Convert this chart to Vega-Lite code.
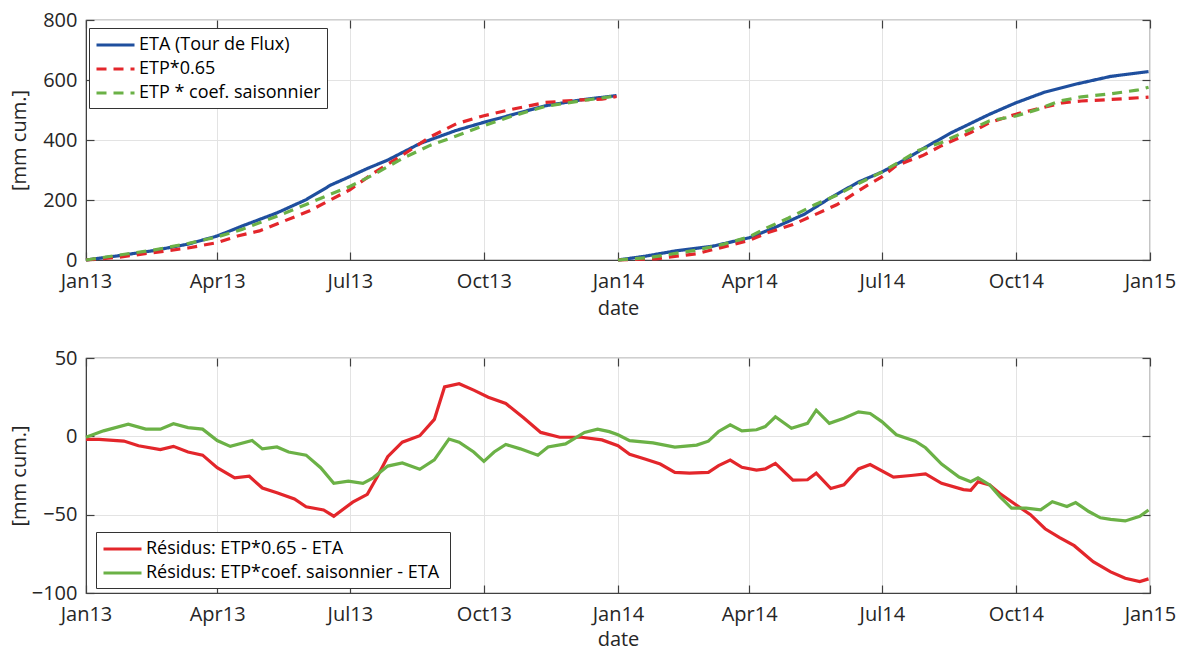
{
  "$schema": "https://vega.github.io/schema/vega-lite/v6.json",
  "background": "white",
  "padding": {"left": 8, "top": 9, "right": 5, "bottom": 0},
  "bounds": "flush",
  "spacing": 98,
  "config": {
    "font": "Open Sans",
    "view": {"stroke": "#404040", "strokeWidth": 1.2},
    "axis": {
      "labelFontSize": 20, "titleFontSize": 20, "titleFontWeight": "normal",
      "labelColor": "#262626", "titleColor": "#262626",
      "tickColor": "#404040", "domainColor": "#404040", "tickSize": -8, "tickWidth": 1.2,
      "gridColor": "#e3e3e3", "gridWidth": 1, "labelFlush": false, "labelOverlap": false
    },
    "legend": {
      "labelFontSize": 18, "labelColor": "#000", "fillColor": "white", "strokeColor": "#333",
      "padding": 6, "symbolType": "M-1,0H3", "symbolSize": 361, "symbolStrokeWidth": 3,
      "labelOffset": 22, "rowPadding": 4, "labelLimit": 500
    }
  },
  "datasets": {
    "cum": [
      {"d": "2013-01-01", "s": "ETA (Tour de Flux)", "yr": 2013, "v": 0},
      {"d": "2013-01-23", "s": "ETA (Tour de Flux)", "yr": 2013, "v": 14},
      {"d": "2013-02-16", "s": "ETA (Tour de Flux)", "yr": 2013, "v": 31},
      {"d": "2013-03-12", "s": "ETA (Tour de Flux)", "yr": 2013, "v": 53},
      {"d": "2013-04-01", "s": "ETA (Tour de Flux)", "yr": 2013, "v": 80},
      {"d": "2013-04-18", "s": "ETA (Tour de Flux)", "yr": 2013, "v": 113},
      {"d": "2013-05-12", "s": "ETA (Tour de Flux)", "yr": 2013, "v": 157},
      {"d": "2013-06-01", "s": "ETA (Tour de Flux)", "yr": 2013, "v": 201},
      {"d": "2013-06-18", "s": "ETA (Tour de Flux)", "yr": 2013, "v": 250},
      {"d": "2013-07-01", "s": "ETA (Tour de Flux)", "yr": 2013, "v": 278},
      {"d": "2013-07-13", "s": "ETA (Tour de Flux)", "yr": 2013, "v": 305},
      {"d": "2013-07-27", "s": "ETA (Tour de Flux)", "yr": 2013, "v": 333},
      {"d": "2013-08-18", "s": "ETA (Tour de Flux)", "yr": 2013, "v": 388},
      {"d": "2013-09-12", "s": "ETA (Tour de Flux)", "yr": 2013, "v": 432},
      {"d": "2013-10-01", "s": "ETA (Tour de Flux)", "yr": 2013, "v": 459},
      {"d": "2013-10-18", "s": "ETA (Tour de Flux)", "yr": 2013, "v": 481},
      {"d": "2013-11-12", "s": "ETA (Tour de Flux)", "yr": 2013, "v": 514},
      {"d": "2013-12-07", "s": "ETA (Tour de Flux)", "yr": 2013, "v": 534},
      {"d": "2013-12-31", "s": "ETA (Tour de Flux)", "yr": 2013, "v": 548},
      {"d": "2014-01-01", "s": "ETA (Tour de Flux)", "yr": 2014, "v": 0},
      {"d": "2014-01-20", "s": "ETA (Tour de Flux)", "yr": 2014, "v": 13},
      {"d": "2014-02-09", "s": "ETA (Tour de Flux)", "yr": 2014, "v": 30},
      {"d": "2014-03-07", "s": "ETA (Tour de Flux)", "yr": 2014, "v": 46},
      {"d": "2014-04-01", "s": "ETA (Tour de Flux)", "yr": 2014, "v": 74},
      {"d": "2014-04-18", "s": "ETA (Tour de Flux)", "yr": 2014, "v": 107},
      {"d": "2014-05-09", "s": "ETA (Tour de Flux)", "yr": 2014, "v": 153},
      {"d": "2014-05-26", "s": "ETA (Tour de Flux)", "yr": 2014, "v": 205},
      {"d": "2014-06-15", "s": "ETA (Tour de Flux)", "yr": 2014, "v": 260},
      {"d": "2014-07-01", "s": "ETA (Tour de Flux)", "yr": 2014, "v": 293},
      {"d": "2014-07-16", "s": "ETA (Tour de Flux)", "yr": 2014, "v": 332},
      {"d": "2014-07-31", "s": "ETA (Tour de Flux)", "yr": 2014, "v": 376},
      {"d": "2014-08-18", "s": "ETA (Tour de Flux)", "yr": 2014, "v": 425},
      {"d": "2014-09-13", "s": "ETA (Tour de Flux)", "yr": 2014, "v": 486},
      {"d": "2014-10-01", "s": "ETA (Tour de Flux)", "yr": 2014, "v": 524},
      {"d": "2014-10-21", "s": "ETA (Tour de Flux)", "yr": 2014, "v": 560},
      {"d": "2014-11-10", "s": "ETA (Tour de Flux)", "yr": 2014, "v": 585},
      {"d": "2014-12-05", "s": "ETA (Tour de Flux)", "yr": 2014, "v": 612},
      {"d": "2014-12-31", "s": "ETA (Tour de Flux)", "yr": 2014, "v": 628},

      {"d": "2013-01-01", "s": "ETP*0.65", "yr": 2013, "v": 0},
      {"d": "2013-01-23", "s": "ETP*0.65", "yr": 2013, "v": 9},
      {"d": "2013-02-23", "s": "ETP*0.65", "yr": 2013, "v": 29},
      {"d": "2013-03-12", "s": "ETP*0.65", "yr": 2013, "v": 40},
      {"d": "2013-04-01", "s": "ETP*0.65", "yr": 2013, "v": 58},
      {"d": "2013-04-15", "s": "ETP*0.65", "yr": 2013, "v": 80},
      {"d": "2013-04-30", "s": "ETP*0.65", "yr": 2013, "v": 97},
      {"d": "2013-05-17", "s": "ETP*0.65", "yr": 2013, "v": 130},
      {"d": "2013-06-03", "s": "ETP*0.65", "yr": 2013, "v": 163},
      {"d": "2013-06-18", "s": "ETP*0.65", "yr": 2013, "v": 201},
      {"d": "2013-07-01", "s": "ETP*0.65", "yr": 2013, "v": 234},
      {"d": "2013-07-17", "s": "ETP*0.65", "yr": 2013, "v": 289},
      {"d": "2013-08-06", "s": "ETP*0.65", "yr": 2013, "v": 349},
      {"d": "2013-08-25", "s": "ETP*0.65", "yr": 2013, "v": 410},
      {"d": "2013-09-12", "s": "ETP*0.65", "yr": 2013, "v": 454},
      {"d": "2013-10-01", "s": "ETP*0.65", "yr": 2013, "v": 481},
      {"d": "2013-10-18", "s": "ETP*0.65", "yr": 2013, "v": 500},
      {"d": "2013-11-12", "s": "ETP*0.65", "yr": 2013, "v": 525},
      {"d": "2013-12-07", "s": "ETP*0.65", "yr": 2013, "v": 534},
      {"d": "2013-12-21", "s": "ETP*0.65", "yr": 2013, "v": 536},
      {"d": "2013-12-31", "s": "ETP*0.65", "yr": 2013, "v": 545},
      {"d": "2014-01-01", "s": "ETP*0.65", "yr": 2014, "v": 0},
      {"d": "2014-01-27", "s": "ETP*0.65", "yr": 2014, "v": 4},
      {"d": "2014-02-24", "s": "ETP*0.65", "yr": 2014, "v": 21},
      {"d": "2014-03-14", "s": "ETP*0.65", "yr": 2014, "v": 43},
      {"d": "2014-04-01", "s": "ETP*0.65", "yr": 2014, "v": 65},
      {"d": "2014-04-13", "s": "ETP*0.65", "yr": 2014, "v": 90},
      {"d": "2014-05-01", "s": "ETP*0.65", "yr": 2014, "v": 118},
      {"d": "2014-05-16", "s": "ETP*0.65", "yr": 2014, "v": 151},
      {"d": "2014-05-31", "s": "ETP*0.65", "yr": 2014, "v": 184},
      {"d": "2014-06-21", "s": "ETP*0.65", "yr": 2014, "v": 249},
      {"d": "2014-07-01", "s": "ETP*0.65", "yr": 2014, "v": 277},
      {"d": "2014-07-11", "s": "ETP*0.65", "yr": 2014, "v": 315},
      {"d": "2014-07-29", "s": "ETP*0.65", "yr": 2014, "v": 348},
      {"d": "2014-08-11", "s": "ETP*0.65", "yr": 2014, "v": 381},
      {"d": "2014-08-31", "s": "ETP*0.65", "yr": 2014, "v": 425},
      {"d": "2014-09-13", "s": "ETP*0.65", "yr": 2014, "v": 458},
      {"d": "2014-10-01", "s": "ETP*0.65", "yr": 2014, "v": 486},
      {"d": "2014-10-16", "s": "ETP*0.65", "yr": 2014, "v": 504},
      {"d": "2014-11-02", "s": "ETP*0.65", "yr": 2014, "v": 524},
      {"d": "2014-11-15", "s": "ETP*0.65", "yr": 2014, "v": 530},
      {"d": "2014-12-05", "s": "ETP*0.65", "yr": 2014, "v": 535},
      {"d": "2014-12-25", "s": "ETP*0.65", "yr": 2014, "v": 541},
      {"d": "2014-12-31", "s": "ETP*0.65", "yr": 2014, "v": 543},

      {"d": "2013-01-01", "s": "ETP * coef. saisonnier", "yr": 2013, "v": 0},
      {"d": "2013-01-23", "s": "ETP * coef. saisonnier", "yr": 2013, "v": 16},
      {"d": "2013-02-16", "s": "ETP * coef. saisonnier", "yr": 2013, "v": 33},
      {"d": "2013-03-12", "s": "ETP * coef. saisonnier", "yr": 2013, "v": 55},
      {"d": "2013-04-01", "s": "ETP * coef. saisonnier", "yr": 2013, "v": 77},
      {"d": "2013-04-18", "s": "ETP * coef. saisonnier", "yr": 2013, "v": 102},
      {"d": "2013-05-12", "s": "ETP * coef. saisonnier", "yr": 2013, "v": 146},
      {"d": "2013-06-01", "s": "ETP * coef. saisonnier", "yr": 2013, "v": 185},
      {"d": "2013-06-18", "s": "ETP * coef. saisonnier", "yr": 2013, "v": 220},
      {"d": "2013-07-01", "s": "ETP * coef. saisonnier", "yr": 2013, "v": 245},
      {"d": "2013-07-17", "s": "ETP * coef. saisonnier", "yr": 2013, "v": 284},
      {"d": "2013-08-06", "s": "ETP * coef. saisonnier", "yr": 2013, "v": 338},
      {"d": "2013-08-25", "s": "ETP * coef. saisonnier", "yr": 2013, "v": 382},
      {"d": "2013-09-12", "s": "ETP * coef. saisonnier", "yr": 2013, "v": 413},
      {"d": "2013-10-01", "s": "ETP * coef. saisonnier", "yr": 2013, "v": 448},
      {"d": "2013-10-18", "s": "ETP * coef. saisonnier", "yr": 2013, "v": 476},
      {"d": "2013-11-12", "s": "ETP * coef. saisonnier", "yr": 2013, "v": 512},
      {"d": "2013-12-07", "s": "ETP * coef. saisonnier", "yr": 2013, "v": 531},
      {"d": "2013-12-31", "s": "ETP * coef. saisonnier", "yr": 2013, "v": 547},
      {"d": "2014-01-01", "s": "ETP * coef. saisonnier", "yr": 2014, "v": 0},
      {"d": "2014-01-22", "s": "ETP * coef. saisonnier", "yr": 2014, "v": 8},
      {"d": "2014-02-24", "s": "ETP * coef. saisonnier", "yr": 2014, "v": 33},
      {"d": "2014-03-14", "s": "ETP * coef. saisonnier", "yr": 2014, "v": 52},
      {"d": "2014-04-01", "s": "ETP * coef. saisonnier", "yr": 2014, "v": 77},
      {"d": "2014-04-13", "s": "ETP * coef. saisonnier", "yr": 2014, "v": 107},
      {"d": "2014-04-28", "s": "ETP * coef. saisonnier", "yr": 2014, "v": 140},
      {"d": "2014-05-16", "s": "ETP * coef. saisonnier", "yr": 2014, "v": 184},
      {"d": "2014-05-31", "s": "ETP * coef. saisonnier", "yr": 2014, "v": 216},
      {"d": "2014-06-15", "s": "ETP * coef. saisonnier", "yr": 2014, "v": 255},
      {"d": "2014-07-01", "s": "ETP * coef. saisonnier", "yr": 2014, "v": 293},
      {"d": "2014-07-11", "s": "ETP * coef. saisonnier", "yr": 2014, "v": 321},
      {"d": "2014-07-26", "s": "ETP * coef. saisonnier", "yr": 2014, "v": 365},
      {"d": "2014-08-11", "s": "ETP * coef. saisonnier", "yr": 2014, "v": 392},
      {"d": "2014-08-26", "s": "ETP * coef. saisonnier", "yr": 2014, "v": 425},
      {"d": "2014-09-13", "s": "ETP * coef. saisonnier", "yr": 2014, "v": 464},
      {"d": "2014-10-01", "s": "ETP * coef. saisonnier", "yr": 2014, "v": 480},
      {"d": "2014-10-16", "s": "ETP * coef. saisonnier", "yr": 2014, "v": 502},
      {"d": "2014-10-31", "s": "ETP * coef. saisonnier", "yr": 2014, "v": 530},
      {"d": "2014-11-15", "s": "ETP * coef. saisonnier", "yr": 2014, "v": 544},
      {"d": "2014-12-05", "s": "ETP * coef. saisonnier", "yr": 2014, "v": 554},
      {"d": "2014-12-23", "s": "ETP * coef. saisonnier", "yr": 2014, "v": 566},
      {"d": "2014-12-31", "s": "ETP * coef. saisonnier", "yr": 2014, "v": 576}
    ],
    "res": [
      {"d": "2013-01-01", "s": "Résidus: ETP*0.65 - ETA", "v": -2},
      {"d": "2013-01-10", "s": "Résidus: ETP*0.65 - ETA", "v": -2},
      {"d": "2013-01-27", "s": "Résidus: ETP*0.65 - ETA", "v": -3},
      {"d": "2013-02-06", "s": "Résidus: ETP*0.65 - ETA", "v": -6},
      {"d": "2013-02-21", "s": "Résidus: ETP*0.65 - ETA", "v": -8.5},
      {"d": "2013-03-02", "s": "Résidus: ETP*0.65 - ETA", "v": -6.4},
      {"d": "2013-03-12", "s": "Résidus: ETP*0.65 - ETA", "v": -10},
      {"d": "2013-03-22", "s": "Résidus: ETP*0.65 - ETA", "v": -12},
      {"d": "2013-04-01", "s": "Résidus: ETP*0.65 - ETA", "v": -20},
      {"d": "2013-04-13", "s": "Résidus: ETP*0.65 - ETA", "v": -26.5},
      {"d": "2013-04-23", "s": "Résidus: ETP*0.65 - ETA", "v": -25.5},
      {"d": "2013-05-02", "s": "Résidus: ETP*0.65 - ETA", "v": -33},
      {"d": "2013-05-12", "s": "Résidus: ETP*0.65 - ETA", "v": -36},
      {"d": "2013-05-24", "s": "Résidus: ETP*0.65 - ETA", "v": -40},
      {"d": "2013-06-01", "s": "Résidus: ETP*0.65 - ETA", "v": -45},
      {"d": "2013-06-13", "s": "Résidus: ETP*0.65 - ETA", "v": -47},
      {"d": "2013-06-20", "s": "Résidus: ETP*0.65 - ETA", "v": -51},
      {"d": "2013-07-03", "s": "Résidus: ETP*0.65 - ETA", "v": -42},
      {"d": "2013-07-13", "s": "Résidus: ETP*0.65 - ETA", "v": -37},
      {"d": "2013-07-20", "s": "Résidus: ETP*0.65 - ETA", "v": -25.5},
      {"d": "2013-07-27", "s": "Résidus: ETP*0.65 - ETA", "v": -13},
      {"d": "2013-08-06", "s": "Résidus: ETP*0.65 - ETA", "v": -3.7},
      {"d": "2013-08-18", "s": "Résidus: ETP*0.65 - ETA", "v": 0.4},
      {"d": "2013-08-28", "s": "Résidus: ETP*0.65 - ETA", "v": 10.8},
      {"d": "2013-09-04", "s": "Résidus: ETP*0.65 - ETA", "v": 31.5},
      {"d": "2013-09-14", "s": "Résidus: ETP*0.65 - ETA", "v": 33.6},
      {"d": "2013-09-24", "s": "Résidus: ETP*0.65 - ETA", "v": 29.5},
      {"d": "2013-10-04", "s": "Résidus: ETP*0.65 - ETA", "v": 25},
      {"d": "2013-10-16", "s": "Résidus: ETP*0.65 - ETA", "v": 21},
      {"d": "2013-10-28", "s": "Résidus: ETP*0.65 - ETA", "v": 12},
      {"d": "2013-11-09", "s": "Résidus: ETP*0.65 - ETA", "v": 2.5},
      {"d": "2013-11-22", "s": "Résidus: ETP*0.65 - ETA", "v": -0.6},
      {"d": "2013-12-07", "s": "Résidus: ETP*0.65 - ETA", "v": -0.6},
      {"d": "2013-12-21", "s": "Résidus: ETP*0.65 - ETA", "v": -2.3},
      {"d": "2014-01-01", "s": "Résidus: ETP*0.65 - ETA", "v": -6},
      {"d": "2014-01-09", "s": "Résidus: ETP*0.65 - ETA", "v": -11.5},
      {"d": "2014-01-20", "s": "Résidus: ETP*0.65 - ETA", "v": -14.6},
      {"d": "2014-01-30", "s": "Résidus: ETP*0.65 - ETA", "v": -17.7},
      {"d": "2014-02-09", "s": "Résidus: ETP*0.65 - ETA", "v": -23},
      {"d": "2014-02-19", "s": "Résidus: ETP*0.65 - ETA", "v": -23.5},
      {"d": "2014-03-04", "s": "Résidus: ETP*0.65 - ETA", "v": -23},
      {"d": "2014-03-11", "s": "Résidus: ETP*0.65 - ETA", "v": -18.7},
      {"d": "2014-03-19", "s": "Résidus: ETP*0.65 - ETA", "v": -15.2},
      {"d": "2014-03-27", "s": "Résidus: ETP*0.65 - ETA", "v": -19.8},
      {"d": "2014-04-06", "s": "Résidus: ETP*0.65 - ETA", "v": -21.5},
      {"d": "2014-04-12", "s": "Résidus: ETP*0.65 - ETA", "v": -20.8},
      {"d": "2014-04-19", "s": "Résidus: ETP*0.65 - ETA", "v": -17.3},
      {"d": "2014-05-01", "s": "Résidus: ETP*0.65 - ETA", "v": -28},
      {"d": "2014-05-11", "s": "Résidus: ETP*0.65 - ETA", "v": -27.7},
      {"d": "2014-05-17", "s": "Résidus: ETP*0.65 - ETA", "v": -23.5},
      {"d": "2014-05-27", "s": "Résidus: ETP*0.65 - ETA", "v": -33.3},
      {"d": "2014-06-05", "s": "Résidus: ETP*0.65 - ETA", "v": -31},
      {"d": "2014-06-15", "s": "Résidus: ETP*0.65 - ETA", "v": -20.8},
      {"d": "2014-06-23", "s": "Résidus: ETP*0.65 - ETA", "v": -18},
      {"d": "2014-07-09", "s": "Résidus: ETP*0.65 - ETA", "v": -26},
      {"d": "2014-07-21", "s": "Résidus: ETP*0.65 - ETA", "v": -25},
      {"d": "2014-07-31", "s": "Résidus: ETP*0.65 - ETA", "v": -24},
      {"d": "2014-08-11", "s": "Résidus: ETP*0.65 - ETA", "v": -30},
      {"d": "2014-08-26", "s": "Résidus: ETP*0.65 - ETA", "v": -34},
      {"d": "2014-08-31", "s": "Résidus: ETP*0.65 - ETA", "v": -34.4},
      {"d": "2014-09-05", "s": "Résidus: ETP*0.65 - ETA", "v": -29},
      {"d": "2014-09-13", "s": "Résidus: ETP*0.65 - ETA", "v": -31},
      {"d": "2014-09-20", "s": "Résidus: ETP*0.65 - ETA", "v": -36.5},
      {"d": "2014-10-01", "s": "Résidus: ETP*0.65 - ETA", "v": -43.7},
      {"d": "2014-10-11", "s": "Résidus: ETP*0.65 - ETA", "v": -50},
      {"d": "2014-10-21", "s": "Résidus: ETP*0.65 - ETA", "v": -59},
      {"d": "2014-10-31", "s": "Résidus: ETP*0.65 - ETA", "v": -64.6},
      {"d": "2014-11-10", "s": "Résidus: ETP*0.65 - ETA", "v": -69.8},
      {"d": "2014-11-23", "s": "Résidus: ETP*0.65 - ETA", "v": -80},
      {"d": "2014-12-05", "s": "Résidus: ETP*0.65 - ETA", "v": -86.5},
      {"d": "2014-12-15", "s": "Résidus: ETP*0.65 - ETA", "v": -90.6},
      {"d": "2014-12-25", "s": "Résidus: ETP*0.65 - ETA", "v": -92.7},
      {"d": "2014-12-31", "s": "Résidus: ETP*0.65 - ETA", "v": -91},

      {"d": "2013-01-01", "s": "Résidus:  ETP*coef. saisonnier - ETA", "v": -0.6},
      {"d": "2013-01-13", "s": "Résidus:  ETP*coef. saisonnier - ETA", "v": 3.5},
      {"d": "2013-01-30", "s": "Résidus:  ETP*coef. saisonnier - ETA", "v": 7.7},
      {"d": "2013-02-11", "s": "Résidus:  ETP*coef. saisonnier - ETA", "v": 4.6},
      {"d": "2013-02-21", "s": "Résidus:  ETP*coef. saisonnier - ETA", "v": 4.6},
      {"d": "2013-03-02", "s": "Résidus:  ETP*coef. saisonnier - ETA", "v": 8},
      {"d": "2013-03-12", "s": "Résidus:  ETP*coef. saisonnier - ETA", "v": 5.6},
      {"d": "2013-03-22", "s": "Résidus:  ETP*coef. saisonnier - ETA", "v": 4.6},
      {"d": "2013-04-01", "s": "Résidus:  ETP*coef. saisonnier - ETA", "v": -2.7},
      {"d": "2013-04-10", "s": "Résidus:  ETP*coef. saisonnier - ETA", "v": -6.4},
      {"d": "2013-04-25", "s": "Résidus:  ETP*coef. saisonnier - ETA", "v": -2.7},
      {"d": "2013-05-02", "s": "Résidus:  ETP*coef. saisonnier - ETA", "v": -8},
      {"d": "2013-05-12", "s": "Résidus:  ETP*coef. saisonnier - ETA", "v": -6.8},
      {"d": "2013-05-20", "s": "Résidus:  ETP*coef. saisonnier - ETA", "v": -10},
      {"d": "2013-06-01", "s": "Résidus:  ETP*coef. saisonnier - ETA", "v": -12},
      {"d": "2013-06-11", "s": "Résidus:  ETP*coef. saisonnier - ETA", "v": -20},
      {"d": "2013-06-20", "s": "Résidus:  ETP*coef. saisonnier - ETA", "v": -30},
      {"d": "2013-06-30", "s": "Résidus:  ETP*coef. saisonnier - ETA", "v": -28.6},
      {"d": "2013-07-10", "s": "Résidus:  ETP*coef. saisonnier - ETA", "v": -30},
      {"d": "2013-07-17", "s": "Résidus:  ETP*coef. saisonnier - ETA", "v": -26.5},
      {"d": "2013-07-27", "s": "Résidus:  ETP*coef. saisonnier - ETA", "v": -19},
      {"d": "2013-08-06", "s": "Résidus:  ETP*coef. saisonnier - ETA", "v": -17},
      {"d": "2013-08-18", "s": "Résidus:  ETP*coef. saisonnier - ETA", "v": -21},
      {"d": "2013-08-28", "s": "Résidus:  ETP*coef. saisonnier - ETA", "v": -15},
      {"d": "2013-09-07", "s": "Résidus:  ETP*coef. saisonnier - ETA", "v": -1.7},
      {"d": "2013-09-14", "s": "Résidus:  ETP*coef. saisonnier - ETA", "v": -3.7},
      {"d": "2013-09-24", "s": "Résidus:  ETP*coef. saisonnier - ETA", "v": -10},
      {"d": "2013-10-01", "s": "Résidus:  ETP*coef. saisonnier - ETA", "v": -16},
      {"d": "2013-10-08", "s": "Résidus:  ETP*coef. saisonnier - ETA", "v": -10},
      {"d": "2013-10-16", "s": "Résidus:  ETP*coef. saisonnier - ETA", "v": -5.2},
      {"d": "2013-10-26", "s": "Résidus:  ETP*coef. saisonnier - ETA", "v": -8},
      {"d": "2013-11-07", "s": "Résidus:  ETP*coef. saisonnier - ETA", "v": -12},
      {"d": "2013-11-14", "s": "Résidus:  ETP*coef. saisonnier - ETA", "v": -6.8},
      {"d": "2013-11-26", "s": "Résidus:  ETP*coef. saisonnier - ETA", "v": -4.8},
      {"d": "2013-12-09", "s": "Résidus:  ETP*coef. saisonnier - ETA", "v": 2.5},
      {"d": "2013-12-18", "s": "Résidus:  ETP*coef. saisonnier - ETA", "v": 4.6},
      {"d": "2013-12-26", "s": "Résidus:  ETP*coef. saisonnier - ETA", "v": 3},
      {"d": "2014-01-01", "s": "Résidus:  ETP*coef. saisonnier - ETA", "v": 1},
      {"d": "2014-01-09", "s": "Résidus:  ETP*coef. saisonnier - ETA", "v": -2.7},
      {"d": "2014-01-25", "s": "Résidus:  ETP*coef. saisonnier - ETA", "v": -4.2},
      {"d": "2014-02-09", "s": "Résidus:  ETP*coef. saisonnier - ETA", "v": -6.9},
      {"d": "2014-02-24", "s": "Résidus:  ETP*coef. saisonnier - ETA", "v": -5.6},
      {"d": "2014-03-04", "s": "Résidus:  ETP*coef. saisonnier - ETA", "v": -3.1},
      {"d": "2014-03-11", "s": "Résidus:  ETP*coef. saisonnier - ETA", "v": 3.1},
      {"d": "2014-03-19", "s": "Résidus:  ETP*coef. saisonnier - ETA", "v": 7.3},
      {"d": "2014-03-27", "s": "Résidus:  ETP*coef. saisonnier - ETA", "v": 3.5},
      {"d": "2014-04-06", "s": "Résidus:  ETP*coef. saisonnier - ETA", "v": 4.2},
      {"d": "2014-04-12", "s": "Résidus:  ETP*coef. saisonnier - ETA", "v": 6.2},
      {"d": "2014-04-19", "s": "Résidus:  ETP*coef. saisonnier - ETA", "v": 12.5},
      {"d": "2014-04-30", "s": "Résidus:  ETP*coef. saisonnier - ETA", "v": 5.2},
      {"d": "2014-05-11", "s": "Résidus:  ETP*coef. saisonnier - ETA", "v": 8.3},
      {"d": "2014-05-17", "s": "Résidus:  ETP*coef. saisonnier - ETA", "v": 16.7},
      {"d": "2014-05-26", "s": "Résidus:  ETP*coef. saisonnier - ETA", "v": 8.3},
      {"d": "2014-06-05", "s": "Résidus:  ETP*coef. saisonnier - ETA", "v": 11.5},
      {"d": "2014-06-15", "s": "Résidus:  ETP*coef. saisonnier - ETA", "v": 15.6},
      {"d": "2014-06-23", "s": "Résidus:  ETP*coef. saisonnier - ETA", "v": 14.6},
      {"d": "2014-07-01", "s": "Résidus:  ETP*coef. saisonnier - ETA", "v": 9.4},
      {"d": "2014-07-11", "s": "Résidus:  ETP*coef. saisonnier - ETA", "v": 1},
      {"d": "2014-07-24", "s": "Résidus:  ETP*coef. saisonnier - ETA", "v": -3.1},
      {"d": "2014-07-31", "s": "Résidus:  ETP*coef. saisonnier - ETA", "v": -7.3},
      {"d": "2014-08-11", "s": "Résidus:  ETP*coef. saisonnier - ETA", "v": -17.7},
      {"d": "2014-08-23", "s": "Résidus:  ETP*coef. saisonnier - ETA", "v": -26},
      {"d": "2014-08-31", "s": "Résidus:  ETP*coef. saisonnier - ETA", "v": -29},
      {"d": "2014-09-05", "s": "Résidus:  ETP*coef. saisonnier - ETA", "v": -26.5},
      {"d": "2014-09-13", "s": "Résidus:  ETP*coef. saisonnier - ETA", "v": -31},
      {"d": "2014-09-20", "s": "Résidus:  ETP*coef. saisonnier - ETA", "v": -38.5},
      {"d": "2014-09-28", "s": "Résidus:  ETP*coef. saisonnier - ETA", "v": -45.8},
      {"d": "2014-10-08", "s": "Résidus:  ETP*coef. saisonnier - ETA", "v": -45.8},
      {"d": "2014-10-18", "s": "Résidus:  ETP*coef. saisonnier - ETA", "v": -46.9},
      {"d": "2014-10-26", "s": "Résidus:  ETP*coef. saisonnier - ETA", "v": -41.7},
      {"d": "2014-11-05", "s": "Résidus:  ETP*coef. saisonnier - ETA", "v": -44.8},
      {"d": "2014-11-11", "s": "Résidus:  ETP*coef. saisonnier - ETA", "v": -42.3},
      {"d": "2014-11-20", "s": "Résidus:  ETP*coef. saisonnier - ETA", "v": -48},
      {"d": "2014-11-28", "s": "Résidus:  ETP*coef. saisonnier - ETA", "v": -52},
      {"d": "2014-12-05", "s": "Résidus:  ETP*coef. saisonnier - ETA", "v": -53},
      {"d": "2014-12-15", "s": "Résidus:  ETP*coef. saisonnier - ETA", "v": -54},
      {"d": "2014-12-25", "s": "Résidus:  ETP*coef. saisonnier - ETA", "v": -51},
      {"d": "2014-12-31", "s": "Résidus:  ETP*coef. saisonnier - ETA", "v": -47}
    ]
  },
  "vconcat": [
    {
      "width": 1064,
      "height": 240,
      "data": {"name": "cum"},
      "layer": [
        {
          "mark": {"type": "line", "strokeWidth": 3.2},
          "encoding": {
            "x": {"field": "d", "type": "temporal",
              "scale": {"type": "utc", "domain": [{"year": 2013, "month": 1, "date": 1, "utc": true}, {"year": 2015, "month": 1, "date": 1, "utc": true}]},
              "axis": {"format": "%b%y", "tickCount": {"interval": "month", "step": 3}, "title": "date", "labelPadding": 19, "titlePadding": 7, "grid": true}},
            "y": {"field": "v", "type": "quantitative",
              "scale": {"domain": [0, 800], "nice": false},
              "axis": {"values": [0, 200, 400, 600, 800], "title": "[mm cum.]", "labelPadding": 17, "titleX": -67, "titleBaseline": "middle", "grid": true}},
            "color": {"field": "s", "type": "nominal",
              "scale": {"domain": ["ETA (Tour de Flux)", "ETP*0.65", "ETP * coef. saisonnier"], "range": ["#1f4f9e", "#e3262b", "#6bb146"]},
              "legend": {"title": null, "orient": "none", "legendX": 3, "legendY": 8}},
            "strokeDash": {"field": "s", "type": "nominal",
              "scale": {"domain": ["ETA (Tour de Flux)", "ETP*0.65", "ETP * coef. saisonnier"], "range": [[1, 0], [10, 7], [10, 7]]},
              "legend": {"title": null, "orient": "none", "legendX": 3, "legendY": 8}},
            "detail": {"field": "yr", "type": "nominal"}
          }
        },
        {
          "mark": {"type": "line", "opacity": 0},
          "encoding": {
            "x": {"field": "d", "type": "temporal",
              "axis": {"orient": "top", "labels": false, "title": null, "grid": false, "domain": false, "tickCount": {"interval": "month", "step": 3}}},
            "y": {"field": "v", "type": "quantitative",
              "axis": {"orient": "right", "labels": false, "title": null, "grid": false, "domain": false, "values": [0, 200, 400, 600, 800]}},
            "detail": {"field": "s", "type": "nominal"}
          }
        }
      ],
      "resolve": {"axis": {"x": "independent", "y": "independent"}}
    },
    {
      "width": 1064,
      "height": 235,
      "data": {"name": "res"},
      "layer": [
        {
          "mark": {"type": "line", "strokeWidth": 3.2},
          "encoding": {
            "x": {"field": "d", "type": "temporal",
              "scale": {"type": "utc", "domain": [{"year": 2013, "month": 1, "date": 1, "utc": true}, {"year": 2015, "month": 1, "date": 1, "utc": true}]},
              "axis": {"format": "%b%y", "tickCount": {"interval": "month", "step": 3}, "title": "date", "labelPadding": 19, "titlePadding": 5, "grid": true}},
            "y": {"field": "v", "type": "quantitative",
              "scale": {"domain": [-100, 50], "nice": false},
              "axis": {"values": [-100, -50, 0, 50], "title": "[mm cum.]", "labelPadding": 17, "titleX": -67, "titleBaseline": "middle", "grid": true}},
            "color": {"field": "s", "type": "nominal",
              "scale": {"domain": ["Résidus: ETP*0.65 - ETA", "Résidus:  ETP*coef. saisonnier - ETA"], "range": ["#e3262b", "#6bb146"]},
              "legend": {"title": null, "orient": "none", "legendX": 10, "legendY": 174}}
          }
        },
        {
          "mark": {"type": "line", "opacity": 0},
          "encoding": {
            "x": {"field": "d", "type": "temporal",
              "axis": {"orient": "top", "labels": false, "title": null, "grid": false, "domain": false, "tickCount": {"interval": "month", "step": 3}}},
            "y": {"field": "v", "type": "quantitative",
              "axis": {"orient": "right", "labels": false, "title": null, "grid": false, "domain": false, "values": [-100, -50, 0, 50]}},
            "detail": {"field": "s", "type": "nominal"}
          }
        }
      ],
      "resolve": {"axis": {"x": "independent", "y": "independent"}}
    }
  ],
  "resolve": {"scale": {"color": "independent", "strokeDash": "independent"}, "legend": {"color": "independent", "strokeDash": "independent"}}
}
